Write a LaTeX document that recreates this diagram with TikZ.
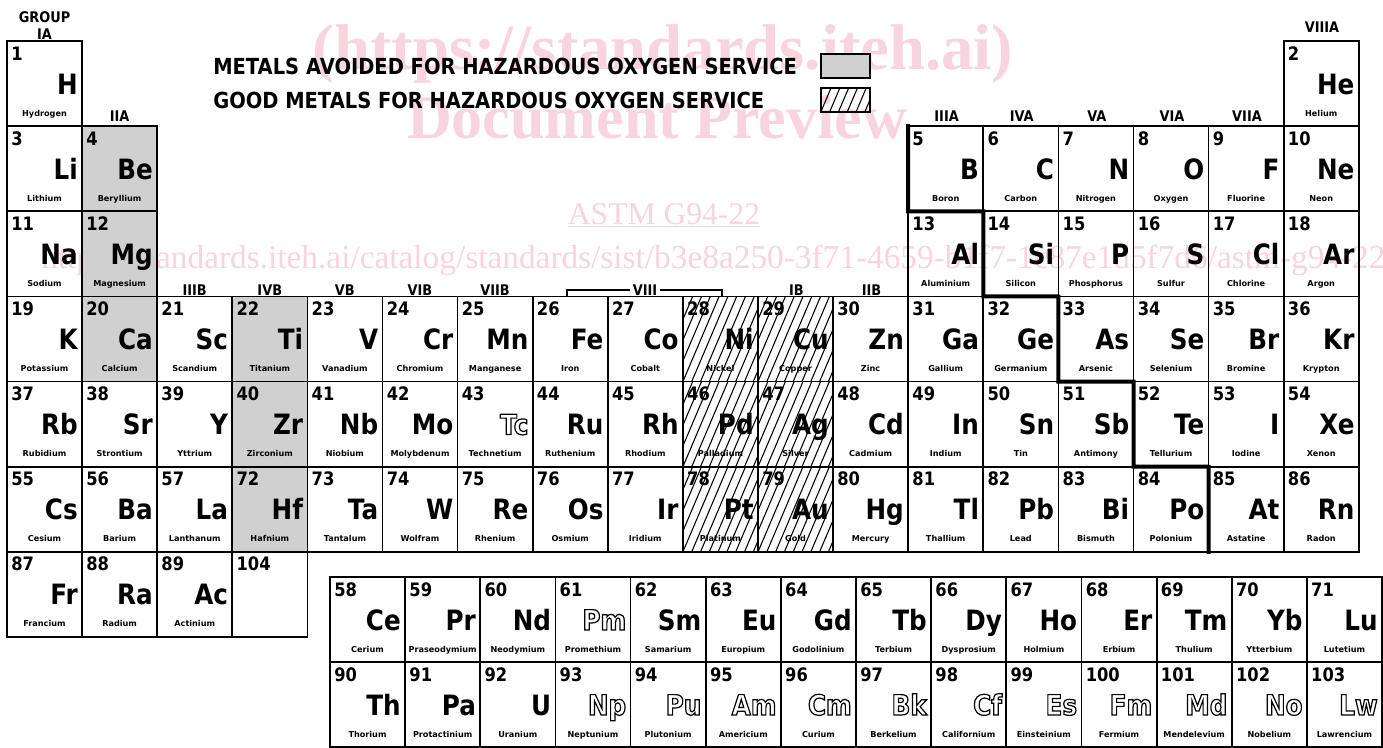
\documentclass[tikz,border=0pt]{standalone}
\usepackage{fontspec}
\setmainfont{DejaVu Sans}
\newfontfamily\symfont{DejaVu Sans}[FakeStretch=0.88]
\newfontfamily\wmfont{Liberation Serif}
\definecolor{avoidgray}{RGB}{208,208,208}
\definecolor{wmpink}{RGB}{248,212,222}
\newcommand\outl[1]{{\special{pdf:literal direct 1 Tr 0.9 w}#1\special{pdf:literal direct 0 Tr}}}
\tikzset{
  cellbox/.style={draw, line width=1.3pt, minimum width=56.3pt, minimum height=63.85pt, inner sep=0pt, outer sep=0pt, anchor=north west},
  avoid/.style={fill=avoidgray},
  good/.style={path picture={\foreach \k in {-10,...,10}{\draw[line width=0.8pt] ([xshift=\k*6.6pt]path picture bounding box.south west) -- ++(34pt,80pt);}}},
  numtxt/.style={anchor=base west, inner sep=0pt, font=\symfont\bfseries\fontsize{13.9}{14}\selectfont},
  symtxt/.style={anchor=base east, inner sep=0pt, font=\symfont\bfseries\fontsize{21}{21}\selectfont},
  nametxt/.style={anchor=base, inner sep=0pt, font=\bfseries\fontsize{6.1}{6}\selectfont},
  grouptxt/.style={anchor=base, inner sep=0pt, font=\symfont\bfseries\fontsize{11}{11}\selectfont},
  legendtxt/.style={anchor=base west, inner sep=0pt, font=\symfont\bfseries\fontsize{16.6}{17}\selectfont},
  legendbox/.style={draw, line width=1.3pt, minimum width=36.75pt, minimum height=18pt, inner sep=0pt, anchor=north west},
  wmtxt/.style={text=wmpink, inner sep=0pt},
  stair/.style={line width=3pt, line cap=rect},
}
\newcommand\cellitems[6]{%
  \node[cellbox,#6] (c#3) at (\X,\Y) {};
  \node[numtxt] (n#3) at (\X+4,\Y+19) {#3};
  \node[symtxt] (s#3) at (\X+71,\Y+53) {#4};
  \node[nametxt] (m#3) at (\X+37.5,\Y+75) {#5};
}
\newcommand\El[6]{%
  \pgfmathsetmacro\X{7+(#1-1)*75.1}%
  \pgfmathsetmacro\Y{41+(#2-1)*85.14}%
  \cellitems{#1}{#2}{#3}{#4}{#5}{#6}%
}
\newcommand\Ln[6]{%
  \pgfmathsetmacro\X{330+#1*75.15}%
  \pgfmathsetmacro\Y{577+#2*85}%
  \cellitems{#1}{#2}{#3}{#4}{#5}{#6}%
}
\begin{document}
\begin{tikzpicture}[x=0.75pt,y=-0.75pt]
\useasboundingbox (0,0) rectangle (1383,747);
\fill[white] (0,0) rectangle (1383,747);
% watermark
\node[wmtxt, anchor=base, font=\wmfont\bfseries\fontsize{48.5}{48}\selectfont] (wm1) at (663,69) {(https://standards.iteh.ai)};
\node[wmtxt, anchor=base, font=\wmfont\bfseries\fontsize{46.5}{46}\selectfont] (wm2) at (657,138) {Document Preview};
\node[wmtxt, anchor=base, font=\wmfont\fontsize{23.7}{24}\selectfont] (wm3) at (664,224) {\underline{ASTM G94-22}};
\node[wmtxt, anchor=base west, font=\wmfont\fontsize{25}{25}\selectfont] (wm4) at (41,268) {https://standards.iteh.ai/catalog/standards/sist/b3e8a250-3f71-4659-b1f7-1c87e1d5f7d6/astm-g94-22};
% legend
\node[legendtxt] (lt1) at (213,74) {METALS AVOIDED FOR HAZARDOUS OXYGEN SERVICE};
\node[legendtxt] (lt2) at (213,108) {GOOD METALS FOR HAZARDOUS OXYGEN SERVICE};
\node[legendbox, avoid] (lb1) at (820,53) {};
\node[legendbox, good] (lb2) at (820,87) {};
% group labels
\node[grouptxt] (gGROUP) at (44.5,22) {GROUP};
\node[grouptxt] (gIA) at (44.5,39) {IA};
\node[grouptxt] (gIIA) at (119.6,121) {IIA};
\node[grouptxt] (gIIIA) at (946.6,121) {IIIA};
\node[grouptxt] (gIVA) at (1021.7,121) {IVA};
\node[grouptxt] (gVA) at (1096.8,121) {VA};
\node[grouptxt] (gVIA) at (1171.9,121) {VIA};
\node[grouptxt] (gVIIA) at (1247,121) {VIIA};
\node[grouptxt] (gVIIIA) at (1322,32) {VIIIA};
\node[grouptxt] (gIIIB) at (194.7,295) {IIIB};
\node[grouptxt] (gIVB) at (269.8,295) {IVB};
\node[grouptxt] (gVB) at (344.9,295) {VB};
\node[grouptxt] (gVIB) at (420,295) {VIB};
\node[grouptxt] (gVIIB) at (495.1,295) {VIIB};
\node[grouptxt] (gIB) at (796.5,295) {IB};
\node[grouptxt] (gIIB) at (871.6,295) {IIB};
\coordinate (b1) at (567,297);
\coordinate (b2) at (722,297);
\draw[line width=1.2pt] (b1) -- ++(0,-7) -- ([yshift=5.25pt]b2) -- (b2);
\node[grouptxt, anchor=base, fill=white, inner xsep=2pt] (gVIII) at (645,295) {VIII};
% main table
\El{1}{1}{1}{H}{Hydrogen}{}
\El{18}{1}{2}{He}{Helium}{}
\El{1}{2}{3}{Li}{Lithium}{}
\El{2}{2}{4}{Be}{Beryllium}{avoid}
\El{13}{2}{5}{B}{Boron}{}
\El{14}{2}{6}{C}{Carbon}{}
\El{15}{2}{7}{N}{Nitrogen}{}
\El{16}{2}{8}{O}{Oxygen}{}
\El{17}{2}{9}{F}{Fluorine}{}
\El{18}{2}{10}{Ne}{Neon}{}
\El{1}{3}{11}{Na}{Sodium}{}
\El{2}{3}{12}{Mg}{Magnesium}{avoid}
\El{13}{3}{13}{Al}{Aluminium}{}
\El{14}{3}{14}{Si}{Silicon}{}
\El{15}{3}{15}{P}{Phosphorus}{}
\El{16}{3}{16}{S}{Sulfur}{}
\El{17}{3}{17}{Cl}{Chlorine}{}
\El{18}{3}{18}{Ar}{Argon}{}
\El{1}{4}{19}{K}{Potassium}{}
\El{2}{4}{20}{Ca}{Calcium}{avoid}
\El{3}{4}{21}{Sc}{Scandium}{}
\El{4}{4}{22}{Ti}{Titanium}{avoid}
\El{5}{4}{23}{V}{Vanadium}{}
\El{6}{4}{24}{Cr}{Chromium}{}
\El{7}{4}{25}{Mn}{Manganese}{}
\El{8}{4}{26}{Fe}{Iron}{}
\El{9}{4}{27}{Co}{Cobalt}{}
\El{10}{4}{28}{Ni}{Nickel}{good}
\El{11}{4}{29}{Cu}{Copper}{good}
\El{12}{4}{30}{Zn}{Zinc}{}
\El{13}{4}{31}{Ga}{Gallium}{}
\El{14}{4}{32}{Ge}{Germanium}{}
\El{15}{4}{33}{As}{Arsenic}{}
\El{16}{4}{34}{Se}{Selenium}{}
\El{17}{4}{35}{Br}{Bromine}{}
\El{18}{4}{36}{Kr}{Krypton}{}
\El{1}{5}{37}{Rb}{Rubidium}{}
\El{2}{5}{38}{Sr}{Strontium}{}
\El{3}{5}{39}{Y}{Yttrium}{}
\El{4}{5}{40}{Zr}{Zirconium}{avoid}
\El{5}{5}{41}{Nb}{Niobium}{}
\El{6}{5}{42}{Mo}{Molybdenum}{}
\El{7}{5}{43}{\outl{Tc}}{Technetium}{}
\El{8}{5}{44}{Ru}{Ruthenium}{}
\El{9}{5}{45}{Rh}{Rhodium}{}
\El{10}{5}{46}{Pd}{Palladium}{good}
\El{11}{5}{47}{Ag}{Silver}{good}
\El{12}{5}{48}{Cd}{Cadmium}{}
\El{13}{5}{49}{In}{Indium}{}
\El{14}{5}{50}{Sn}{Tin}{}
\El{15}{5}{51}{Sb}{Antimony}{}
\El{16}{5}{52}{Te}{Tellurium}{}
\El{17}{5}{53}{I}{Iodine}{}
\El{18}{5}{54}{Xe}{Xenon}{}
\El{1}{6}{55}{Cs}{Cesium}{}
\El{2}{6}{56}{Ba}{Barium}{}
\El{3}{6}{57}{La}{Lanthanum}{}
\El{4}{6}{72}{Hf}{Hafnium}{avoid}
\El{5}{6}{73}{Ta}{Tantalum}{}
\El{6}{6}{74}{W}{Wolfram}{}
\El{7}{6}{75}{Re}{Rhenium}{}
\El{8}{6}{76}{Os}{Osmium}{}
\El{9}{6}{77}{Ir}{Iridium}{}
\El{10}{6}{78}{Pt}{Platinum}{good}
\El{11}{6}{79}{Au}{Gold}{good}
\El{12}{6}{80}{Hg}{Mercury}{}
\El{13}{6}{81}{Tl}{Thallium}{}
\El{14}{6}{82}{Pb}{Lead}{}
\El{15}{6}{83}{Bi}{Bismuth}{}
\El{16}{6}{84}{Po}{Polonium}{}
\El{17}{6}{85}{At}{Astatine}{}
\El{18}{6}{86}{Rn}{Radon}{}
\El{1}{7}{87}{Fr}{Francium}{}
\El{2}{7}{88}{Ra}{Radium}{}
\El{3}{7}{89}{Ac}{Actinium}{}
\El{4}{7}{104}{}{}{}
% lanthanides
\Ln{0}{0}{58}{Ce}{Cerium}{}
\Ln{1}{0}{59}{Pr}{Praseodymium}{}
\Ln{2}{0}{60}{Nd}{Neodymium}{}
\Ln{3}{0}{61}{\outl{Pm}}{Promethium}{}
\Ln{4}{0}{62}{Sm}{Samarium}{}
\Ln{5}{0}{63}{Eu}{Europium}{}
\Ln{6}{0}{64}{Gd}{Godolinium}{}
\Ln{7}{0}{65}{Tb}{Terbium}{}
\Ln{8}{0}{66}{Dy}{Dysprosium}{}
\Ln{9}{0}{67}{Ho}{Holmium}{}
\Ln{10}{0}{68}{Er}{Erbium}{}
\Ln{11}{0}{69}{Tm}{Thulium}{}
\Ln{12}{0}{70}{Yb}{Ytterbium}{}
\Ln{13}{0}{71}{Lu}{Lutetium}{}
% actinides
\Ln{0}{1}{90}{Th}{Thorium}{}
\Ln{1}{1}{91}{Pa}{Protactinium}{}
\Ln{2}{1}{92}{U}{Uranium}{}
\Ln{3}{1}{93}{\outl{Np}}{Neptunium}{}
\Ln{4}{1}{94}{\outl{Pu}}{Plutonium}{}
\Ln{5}{1}{95}{\outl{Am}}{Americium}{}
\Ln{6}{1}{96}{\outl{Cm}}{Curium}{}
\Ln{7}{1}{97}{\outl{Bk}}{Berkelium}{}
\Ln{8}{1}{98}{\outl{Cf}}{Californium}{}
\Ln{9}{1}{99}{\outl{Es}}{Einsteinium}{}
\Ln{10}{1}{100}{\outl{Fm}}{Fermium}{}
\Ln{11}{1}{101}{\outl{Md}}{Mendelevium}{}
\Ln{12}{1}{102}{\outl{No}}{Nobelium}{}
\Ln{13}{1}{103}{\outl{Lw}}{Lawrencium}{}
% metalloid staircase
\draw[stair] (c5.north west) -- (c5.south west) -- (c5.south east) -- (c14.south west) -- (c14.south east) -- (c33.north west) -- (c33.south west) -- (c33.south east) -- (c52.north west) -- (c52.south west) -- (c52.south east) -- (c85.north west) -- (c85.south west);
\end{tikzpicture}
\end{document}
